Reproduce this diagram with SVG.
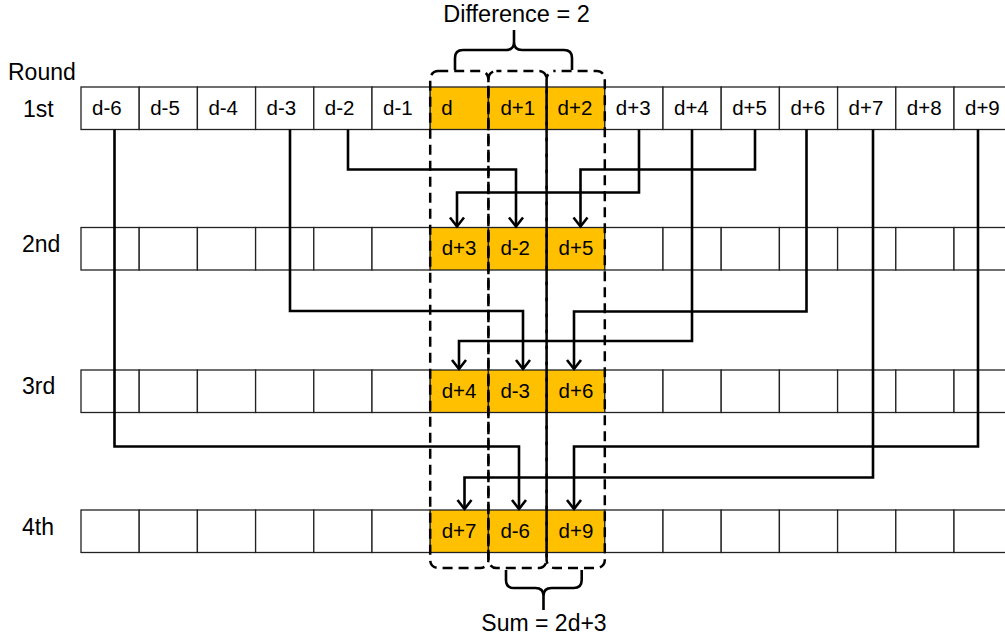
<svg xmlns="http://www.w3.org/2000/svg" width="1005" height="639" viewBox="0 0 1005 639">
<defs>
<style>
.cell{fill:#fff;stroke:#222;stroke-width:1.3}
.hot{fill:#FFC000;stroke:#222;stroke-width:1.3}
.t{font-family:"Liberation Sans",Arial,sans-serif;font-size:20.5px;fill:#000}
.lbl{font-family:"Liberation Sans",Arial,sans-serif;font-size:23px;fill:#000}
.big{font-family:"Liberation Sans",Arial,sans-serif;font-size:23.5px;fill:#000}
.conn{fill:none;stroke:#000;stroke-width:2.6;marker-end:url(#arr)}
.dash{fill:none;stroke:#000;stroke-width:2.5;stroke-dasharray:10 6}
.brace{fill:none;stroke:#000;stroke-width:2.6;stroke-linejoin:round}
</style>
<marker id="arr" markerUnits="userSpaceOnUse" markerWidth="24" markerHeight="24" viewBox="-12 -12 24 24" refX="0" refY="0" orient="auto">
<path d="M-9,-7 L0,0 L-9,7" fill="none" stroke="#000" stroke-width="2.6"/>
</marker>
</defs>
<rect width="1005" height="639" fill="#fff"/>

<g id="labels">
<text class="lbl" x="8" y="80">Round</text>
<text class="lbl" x="23" y="117">1st</text>
<text class="lbl" x="22" y="252">2nd</text>
<text class="lbl" x="22" y="394">3rd</text>
<text class="lbl" x="22" y="535">4th</text>
</g>

<g id="row1">
<g id="r1c0"><rect class="cell" x="81" y="87" width="58.2" height="42.5"/><text class="t" x="92" y="115">d-6</text></g>
<g id="r1c1"><rect class="cell" x="139.2" y="87" width="58.2" height="42.5"/><text class="t" x="150.2" y="115">d-5</text></g>
<g id="r1c2"><rect class="cell" x="197.4" y="87" width="58.2" height="42.5"/><text class="t" x="208.4" y="115">d-4</text></g>
<g id="r1c3"><rect class="cell" x="255.6" y="87" width="58.2" height="42.5"/><text class="t" x="266.6" y="115">d-3</text></g>
<g id="r1c4"><rect class="cell" x="313.8" y="87" width="58.2" height="42.5"/><text class="t" x="324.8" y="115">d-2</text></g>
<g id="r1c5"><rect class="cell" x="372" y="87" width="58.2" height="42.5"/><text class="t" x="383" y="115">d-1</text></g>
<g id="r1c6"><rect class="hot" x="430.2" y="87" width="58.2" height="42.5"/><text class="t" x="441.2" y="115">d</text></g>
<g id="r1c7"><rect class="hot" x="488.4" y="87" width="58.2" height="42.5"/><text class="t" x="500.4" y="115">d+1</text></g>
<g id="r1c8"><rect class="hot" x="546.6" y="87" width="58.2" height="42.5"/><text class="t" x="557.6" y="115">d+2</text></g>
<g id="r1c9"><rect class="cell" x="604.8" y="87" width="58.2" height="42.5"/><text class="t" x="615.8" y="115">d+3</text></g>
<g id="r1c10"><rect class="cell" x="663" y="87" width="58.2" height="42.5"/><text class="t" x="674" y="115">d+4</text></g>
<g id="r1c11"><rect class="cell" x="721.2" y="87" width="58.2" height="42.5"/><text class="t" x="732.2" y="115">d+5</text></g>
<g id="r1c12"><rect class="cell" x="779.4" y="87" width="58.2" height="42.5"/><text class="t" x="790.4" y="115">d+6</text></g>
<g id="r1c13"><rect class="cell" x="837.6" y="87" width="58.2" height="42.5"/><text class="t" x="848.6" y="115">d+7</text></g>
<g id="r1c14"><rect class="cell" x="895.8" y="87" width="58.2" height="42.5"/><text class="t" x="906.8" y="115">d+8</text></g>
<g id="r1c15"><rect class="cell" x="954" y="87" width="58.2" height="42.5"/><text class="t" x="965" y="115">d+9</text></g>
</g>

<g id="row2">
<g id="r2c0"><rect class="cell" x="81" y="227.5" width="58.2" height="42.5"/></g>
<g id="r2c1"><rect class="cell" x="139.2" y="227.5" width="58.2" height="42.5"/></g>
<g id="r2c2"><rect class="cell" x="197.4" y="227.5" width="58.2" height="42.5"/></g>
<g id="r2c3"><rect class="cell" x="255.6" y="227.5" width="58.2" height="42.5"/></g>
<g id="r2c4"><rect class="cell" x="313.8" y="227.5" width="58.2" height="42.5"/></g>
<g id="r2c5"><rect class="cell" x="372" y="227.5" width="58.2" height="42.5"/></g>
<g id="r2c6"><rect class="hot" x="430.2" y="227.5" width="58.2" height="42.5"/><text class="t" x="441.7" y="255">d+3</text></g>
<g id="r2c7"><rect class="hot" x="488.4" y="227.5" width="58.2" height="42.5"/><text class="t" x="500.4" y="255">d-2</text></g>
<g id="r2c8"><rect class="hot" x="546.6" y="227.5" width="58.2" height="42.5"/><text class="t" x="558.6" y="255">d+5</text></g>
<g id="r2c9"><rect class="cell" x="604.8" y="227.5" width="58.2" height="42.5"/></g>
<g id="r2c10"><rect class="cell" x="663" y="227.5" width="58.2" height="42.5"/></g>
<g id="r2c11"><rect class="cell" x="721.2" y="227.5" width="58.2" height="42.5"/></g>
<g id="r2c12"><rect class="cell" x="779.4" y="227.5" width="58.2" height="42.5"/></g>
<g id="r2c13"><rect class="cell" x="837.6" y="227.5" width="58.2" height="42.5"/></g>
<g id="r2c14"><rect class="cell" x="895.8" y="227.5" width="58.2" height="42.5"/></g>
<g id="r2c15"><rect class="cell" x="954" y="227.5" width="58.2" height="42.5"/></g>
</g>

<g id="row3">
<g id="r3c0"><rect class="cell" x="81" y="370" width="58.2" height="42.5"/></g>
<g id="r3c1"><rect class="cell" x="139.2" y="370" width="58.2" height="42.5"/></g>
<g id="r3c2"><rect class="cell" x="197.4" y="370" width="58.2" height="42.5"/></g>
<g id="r3c3"><rect class="cell" x="255.6" y="370" width="58.2" height="42.5"/></g>
<g id="r3c4"><rect class="cell" x="313.8" y="370" width="58.2" height="42.5"/></g>
<g id="r3c5"><rect class="cell" x="372" y="370" width="58.2" height="42.5"/></g>
<g id="r3c6"><rect class="hot" x="430.2" y="370" width="58.2" height="42.5"/><text class="t" x="441.7" y="397.5">d+4</text></g>
<g id="r3c7"><rect class="hot" x="488.4" y="370" width="58.2" height="42.5"/><text class="t" x="500.4" y="397.5">d-3</text></g>
<g id="r3c8"><rect class="hot" x="546.6" y="370" width="58.2" height="42.5"/><text class="t" x="558.6" y="397.5">d+6</text></g>
<g id="r3c9"><rect class="cell" x="604.8" y="370" width="58.2" height="42.5"/></g>
<g id="r3c10"><rect class="cell" x="663" y="370" width="58.2" height="42.5"/></g>
<g id="r3c11"><rect class="cell" x="721.2" y="370" width="58.2" height="42.5"/></g>
<g id="r3c12"><rect class="cell" x="779.4" y="370" width="58.2" height="42.5"/></g>
<g id="r3c13"><rect class="cell" x="837.6" y="370" width="58.2" height="42.5"/></g>
<g id="r3c14"><rect class="cell" x="895.8" y="370" width="58.2" height="42.5"/></g>
<g id="r3c15"><rect class="cell" x="954" y="370" width="58.2" height="42.5"/></g>
</g>

<g id="row4">
<g id="r4c0"><rect class="cell" x="81" y="510" width="58.2" height="42.5"/></g>
<g id="r4c1"><rect class="cell" x="139.2" y="510" width="58.2" height="42.5"/></g>
<g id="r4c2"><rect class="cell" x="197.4" y="510" width="58.2" height="42.5"/></g>
<g id="r4c3"><rect class="cell" x="255.6" y="510" width="58.2" height="42.5"/></g>
<g id="r4c4"><rect class="cell" x="313.8" y="510" width="58.2" height="42.5"/></g>
<g id="r4c5"><rect class="cell" x="372" y="510" width="58.2" height="42.5"/></g>
<g id="r4c6"><rect class="hot" x="430.2" y="510" width="58.2" height="42.5"/><text class="t" x="441.7" y="537.5">d+7</text></g>
<g id="r4c7"><rect class="hot" x="488.4" y="510" width="58.2" height="42.5"/><text class="t" x="500.4" y="537.5">d-6</text></g>
<g id="r4c8"><rect class="hot" x="546.6" y="510" width="58.2" height="42.5"/><text class="t" x="558.6" y="537.5">d+9</text></g>
<g id="r4c9"><rect class="cell" x="604.8" y="510" width="58.2" height="42.5"/></g>
<g id="r4c10"><rect class="cell" x="663" y="510" width="58.2" height="42.5"/></g>
<g id="r4c11"><rect class="cell" x="721.2" y="510" width="58.2" height="42.5"/></g>
<g id="r4c12"><rect class="cell" x="779.4" y="510" width="58.2" height="42.5"/></g>
<g id="r4c13"><rect class="cell" x="837.6" y="510" width="58.2" height="42.5"/></g>
<g id="r4c14"><rect class="cell" x="895.8" y="510" width="58.2" height="42.5"/></g>
<g id="r4c15"><rect class="cell" x="954" y="510" width="58.2" height="42.5"/></g>
</g>

<g id="columns">
<rect class="dash" x="430.2" y="71" width="58.2" height="497" rx="8"/>
<rect class="dash" x="488.4" y="71" width="58.2" height="497" rx="8" style="stroke-dashoffset:5"/>
<rect class="dash" x="546.6" y="71" width="58.2" height="497" rx="8" style="stroke-dashoffset:9"/>
</g>

<g id="connectors">
<path class="conn" d="M348,129.5 V169.5 H516 V226.5"/>
<path class="conn" d="M639,129.5 V192.5 H457 V226.5"/>
<path class="conn" d="M755,129.5 V169.5 H580.5 V226.5"/>
<path class="conn" d="M290,129.5 V311 H523 V369"/>
<path class="conn" d="M692,129.5 V341 H459 V369"/>
<path class="conn" d="M806.5,129.5 V311.5 H574 V369"/>
<path class="conn" d="M114.5,129.5 V446.5 H519 V509"/>
<path class="conn" d="M873,129.5 V477.5 H464.5 V509"/>
<path class="conn" d="M978,129.5 V446.5 H574 V509"/>
</g>

<g id="difference">
<path class="brace" d="M455,70 V58 Q455,50 463,50 H506 Q514,50 514,42 V30 M514,42 Q514,50 522,50 H564 Q572,50 572,58 V70"/>
<text class="big" x="516.5" y="22" text-anchor="middle">Difference = 2</text>
</g>

<g id="sum">
<path class="brace" d="M506,570 V580 Q506,588 514,588 H535.5 Q543.5,588 543.5,596 V610 M543.5,596 Q543.5,588 551.5,588 H573.7 Q581.7,588 581.7,580 V570"/>
<text class="lbl" x="544" y="631" text-anchor="middle">Sum = 2d+3</text>
</g>
</svg>
